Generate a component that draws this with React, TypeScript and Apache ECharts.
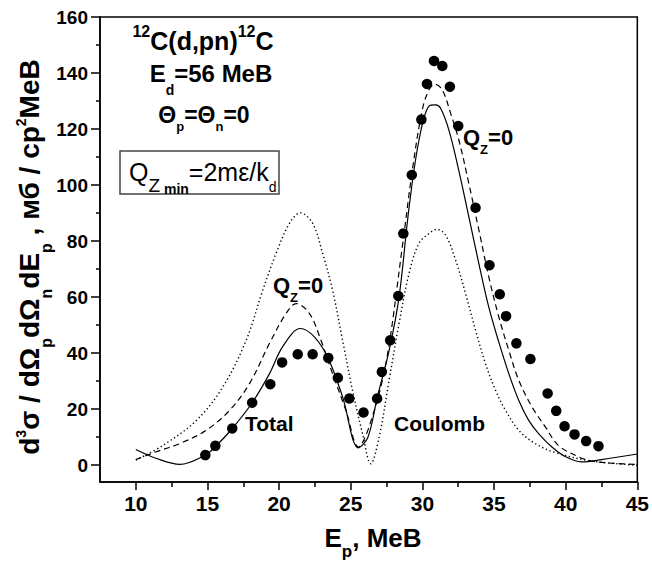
import React, { useEffect, useRef } from "react";
import * as echarts from "echarts";

// experimental points (filled circles)
const expX = [14.85, 15.55, 16.73, 18.12, 19.38, 20.21, 21.3, 22.34, 23.43, 24.1, 24.9, 25.89, 26.84, 27.17, 27.75, 28.32, 28.67, 29.26, 29.93, 30.32, 30.81, 31.39, 31.92, 32.5, 33.71, 34.68, 35.4, 35.84, 36.56, 37.54, 38.74, 39.34, 39.92, 40.62, 41.43, 42.29];
const expY = [3.6, 6.9, 13.1, 22.3, 28.9, 36.7, 39.6, 39.6, 38.3, 31.2, 23.8, 18.8, 23.8, 33.3, 44.6, 60.4, 82.7, 103.6, 123.4, 136.1, 144.3, 142.5, 135.1, 121.1, 91.9, 71.4, 61.0, 53.2, 43.5, 37.9, 25.6, 19.4, 13.9, 11.0, 8.6, 6.8];

// Total (solid)
const totalX = [10.0, 11.44, 13.07, 14.85, 15.55, 16.73, 18.12, 19.33, 20.25, 21.48, 22.46, 23.43, 24.43, 25.54, 26.2, 26.86, 27.68, 28.37, 29.07, 29.76, 30.46, 30.93, 31.27, 31.85, 32.55, 33.24, 33.94, 34.63, 35.33, 36.03, 36.72, 37.42, 38.11, 39.04, 40.0, 41.1, 42.5, 45.0];
const totalY = [5.6, 2.4, 0.3, 3.6, 6.6, 13.1, 22.3, 32.7, 42.3, 48.8, 45.8, 38.1, 24.4, 6.2, 10.0, 24.4, 41.0, 60.0, 92.0, 116.0, 128.2, 128.6, 127.4, 119.6, 105.0, 88.7, 72.0, 56.5, 44.0, 32.7, 23.2, 16.0, 11.3, 6.5, 3.0, 1.2, 2.0, 4.0];

// Qz = 0 (dashed)
const qzX = [10.0, 11.44, 13.07, 14.92, 16.55, 17.94, 19.33, 20.49, 21.19, 22.11, 22.92, 23.73, 24.66, 25.54, 26.3, 27.45, 28.6, 29.3, 29.99, 30.46, 30.88, 31.39, 31.97, 32.55, 33.24, 33.94, 34.63, 35.33, 36.03, 36.72, 37.65, 38.58, 39.5, 40.9, 41.8, 43.5, 45.0];
const qzY = [2.0, 4.8, 7.7, 12.5, 19.6, 29.2, 43.5, 54.2, 57.7, 54.2, 44.6, 32.7, 19.6, 6.5, 14.0, 36.3, 78.0, 105.4, 126.8, 134.0, 136.0, 134.0, 125.6, 116.0, 100.6, 84.0, 67.3, 53.0, 41.0, 30.4, 20.8, 13.7, 7.0, 3.0, 1.5, 0.6, 0.3];

// Coulomb (dotted)
const coulX = [10.0, 11.9, 14.23, 16.08, 17.7, 18.86, 19.79, 20.72, 21.48, 22.34, 23.04, 23.73, 24.43, 25.12, 25.82, 26.4, 26.98, 27.68, 28.37, 29.07, 29.76, 30.46, 31.04, 31.62, 32.32, 33.01, 33.71, 34.4, 35.1, 35.8, 36.72, 37.88, 39.27, 41.8, 45.0];
const coulY = [1.8, 7.1, 16.0, 28.0, 44.6, 62.5, 75.6, 86.3, 90.1, 86.3, 75.6, 62.5, 44.6, 26.8, 11.3, 0.5, 10.0, 30.4, 50.6, 68.5, 79.2, 82.7, 84.2, 82.1, 73.2, 61.3, 48.2, 36.3, 26.8, 19.6, 12.5, 7.7, 4.5, 1.5, 0.0];

// ticks
const xMajor = [10, 15, 20, 25, 30, 35, 40, 45];
const xMinor = [12.5, 17.5, 22.5, 27.5, 32.5, 37.5, 42.5];
const yMajor = [0, 20, 40, 60, 80, 100, 120, 140, 160];
const yMinor = [10, 30, 50, 70, 90, 110, 130, 150];

const F = "'Liberation Sans', Arial, Helvetica, sans-serif";

const zip = (xs: number[], ys: number[]) => xs.map((x, i) => [x, ys[i]]);

const st = (size: number, bold: boolean, shift = 0) => ({
  fontSize: size,
  fontWeight: bold ? "bold" : "normal",
  fontFamily: F,
  fill: "#000",
  color: "#000",
  verticalAlign: "middle",
  padding: shift > 0 ? [2 * shift, 0, 0, 0] : shift < 0 ? [0, 0, -2 * shift, 0] : 0,
});

export default function App() {
  const ref = useRef<HTMLDivElement>(null);
  useEffect(() => {
    document.body.style.margin = "0";
    const chart = echarts.init(ref.current!, null, { renderer: "svg" });
    const lineStyle = { color: "#000", width: 1.5 };
    const option: any = {
      animation: false,
      backgroundColor: "#fff",
      grid: { left: 100, right: 13, top: 17, bottom: 83, show: true, borderColor: "#000", borderWidth: 1.5, backgroundColor: "transparent" },
      xAxis: [
        {
          type: "value", min: 7.5, max: 45, position: "bottom",
          axisLine: { show: true, onZero: false, lineStyle },
          axisTick: { show: true, inside: false, length: 8, lineStyle, customValues: xMajor },
          axisLabel: { customValues: xMajor, margin: 11, fontSize: 21, fontWeight: "bold", fontFamily: F, color: "#000" },
          splitLine: { show: false },
        },
        {
          type: "value", min: 7.5, max: 45, position: "bottom",
          axisLine: { show: false, onZero: false },
          axisTick: { show: true, inside: false, length: 5, lineStyle, customValues: xMinor },
          axisLabel: { show: false },
          splitLine: { show: false },
        },
      ],
      yAxis: [
        {
          type: "value", min: -6, max: 160, position: "left",
          axisLine: { show: true, onZero: false, lineStyle },
          axisTick: { show: true, inside: false, length: 9, lineStyle, customValues: yMajor },
          axisLabel: { customValues: yMajor, margin: 12, fontSize: 19, fontWeight: "bold", fontFamily: F, color: "#000" },
          splitLine: { show: false },
        },
        {
          type: "value", min: -6, max: 160, position: "left",
          axisLine: { show: false, onZero: false },
          axisTick: { show: true, inside: false, length: 4, lineStyle, customValues: yMinor },
          axisLabel: { show: false },
          splitLine: { show: false },
        },
      ],
      series: [
        {
          type: "line", name: "Coulomb", data: zip(coulX, coulY), smooth: 0.35, showSymbol: false,
          lineStyle: { color: "#000", width: 1.4, type: [1.3, 2.7] },
        },
        {
          type: "line", name: "Qz=0", data: zip(qzX, qzY), smooth: 0.35, showSymbol: false,
          lineStyle: { color: "#000", width: 1.2, type: [6, 4] },
        },
        {
          type: "line", name: "Total", data: zip(totalX, totalY), smooth: 0.35, showSymbol: false,
          lineStyle: { color: "#000", width: 1.2, type: "solid" },
        },
        {
          type: "scatter", name: "exp", data: zip(expX, expY), symbol: "circle", symbolSize: 10.5,
          itemStyle: { color: "#000", opacity: 1 }, z: 5,
        },
      ],
      graphic: [
        {
          type: "text", x: 203, y: 41,
          style: {
            text: "{s|12}{m|C(d,pn)}{s|12}{m|C}", align: "center", verticalAlign: "middle",
            rich: { m: st(25, true), s: st(16, true, -10) },
          },
        },
        {
          type: "text", x: 211, y: 73.5,
          style: {
            text: "{m|E}{d|d}{m|=56 MeB}", align: "center", verticalAlign: "middle",
            rich: { m: st(24, true), d: st(14, true, 16) },
          },
        },
        {
          type: "text", x: 204, y: 115,
          style: {
            text: "{m|Θ}{d|p}{m|=Θ}{d|n}{m|=0}", align: "center", verticalAlign: "middle",
            rich: { m: st(23, true), d: st(13, true, 11) },
          },
        },
        {
          type: "rect", shape: { x: 120, y: 151, width: 159, height: 43 },
          style: { fill: "none", stroke: "#444", lineWidth: 1.5 },
        },
        {
          type: "text", x: 129, y: 171.5,
          style: {
            text: "{m|Q}{z|Z}{n| min}{m|=2mε/k}{d|d}", align: "left", verticalAlign: "middle",
            rich: { m: st(25, false), z: st(19, false, 14), n: st(14, true, 17), d: st(14, false, 15) },
          },
        },
        {
          type: "text", x: 273, y: 285,
          style: {
            text: "{m|Q}{d|Z}{m|=0}", align: "left", verticalAlign: "middle",
            rich: { m: st(22, true), d: st(13, true, 12.5) },
          },
        },
        {
          type: "text", x: 463, y: 137,
          style: {
            text: "{m|Q}{d|Z}{m|=0}", align: "left", verticalAlign: "middle",
            rich: { m: st(22, true), d: st(13, true, 12.5) },
          },
        },
        {
          type: "text", x: 245, y: 423,
          style: { text: "Total", align: "left", verticalAlign: "middle", font: `bold 21px ${F}`, fill: "#000" },
        },
        {
          type: "text", x: 394, y: 423,
          style: { text: "Coulomb", align: "left", verticalAlign: "middle", font: `bold 21px ${F}`, fill: "#000" },
        },
        {
          type: "text", x: 373, y: 537.5,
          style: {
            text: "{m|E}{d|p}{m|, МеВ}", align: "center", verticalAlign: "middle",
            rich: { m: st(26, true), d: st(17, true, 14) },
          },
        },
        {
          type: "text", x: 29, y: 257, rotation: Math.PI / 2,
          style: {
            text: "{m|d}{u|3}{m|σ / dΩ}{d|p}{m|dΩ}{d|n}{m|dE}{d|p}{m| , мб / ср}{u|2}{m|МеВ}",
            align: "center", verticalAlign: "middle",
            rich: { m: st(28, true), d: st(16, true, 17), u: st(14, true, -8) },
          },
        },
      ],
    };
    chart.setOption(option);
    return () => chart.dispose();
  }, []);
  return <div ref={ref} style={{ position: "fixed", left: 0, top: 0, width: 652, height: 565 }} />;
}
